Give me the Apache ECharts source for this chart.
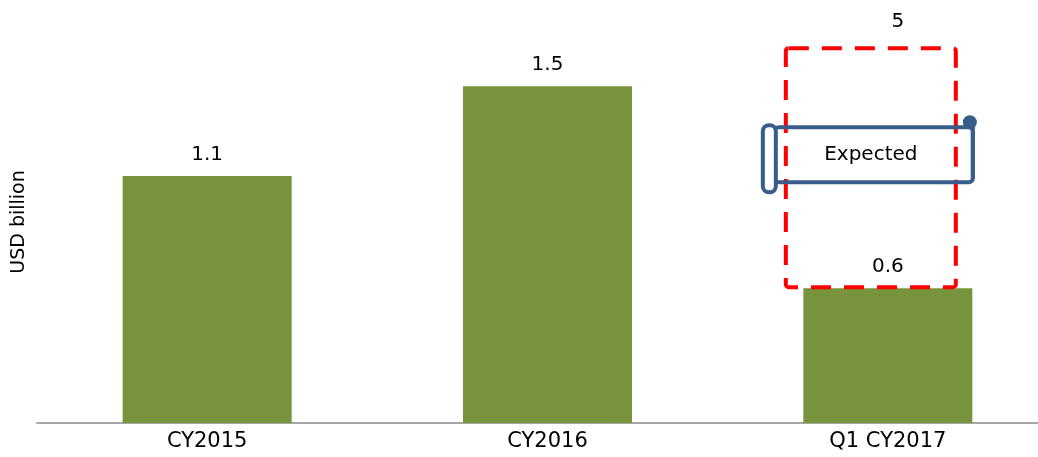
<!DOCTYPE html>
<html>
<head>
<meta charset="utf-8">
<title>USD billion by period</title>
<script src="https://cdn.jsdelivr.net/npm/echarts@6/dist/echarts.min.js"></script>
<style>
  html, body { margin: 0; padding: 0; background: #ffffff; overflow: hidden; }
  /* the plot runs a little past the right edge of the page */
  #chart { width: 1058px; height: 457px; }
</style>
</head>
<body>
<div id="chart"></div>
<script>
// Periods and values (USD billion)
const categories = ['CY2015', 'CY2016', 'Q1 CY2017'];
const values = [1.1, 1.5, 0.6];
const expectedValue = '5';
const expectedText = 'Expected';
const axisTitle = 'USD billion';

const FONT = 'DejaVu Sans, Liberation Sans, Arial, sans-serif';
const GREEN = '#77933c';
const RED = '#ff0000';
const BLUE = '#385d8a';

const chart = echarts.init(document.getElementById('chart'), null, { renderer: 'canvas' });

const option = {
  animation: false,
  backgroundColor: '#ffffff',
  grid: { left: 37, right: 0, top: 21, bottom: 34, containLabel: false },
  xAxis: {
    type: 'category',
    data: categories,
    axisLine: { show: true, lineStyle: { color: '#a6a6a6', width: 2 } },
    axisTick: { show: false },
    axisLabel: { color: '#000000', fontSize: 21, fontFamily: FONT, margin: 8 },
    splitLine: { show: false }
  },
  yAxis: {
    type: 'value',
    min: 0,
    max: 1.79,
    name: axisTitle,
    nameLocation: 'middle',
    nameRotate: 90,
    nameGap: 8,
    nameTextStyle: { color: '#000000', fontSize: 19, fontFamily: FONT },
    axisLine: { show: false },
    axisTick: { show: false },
    axisLabel: { show: false },
    splitLine: { show: false }
  },
  series: [{
    type: 'bar',
    data: values,
    barWidth: 169,
    itemStyle: { color: GREEN },
    label: {
      show: true,
      position: 'top',
      distance: 11,
      color: '#000000',
      fontSize: 20,
      fontFamily: FONT,
      formatter: p => p.value.toFixed(1)
    }
  }]
};

chart.setOption(option);

// Annotation around the last period: dashed outline, its figure and an "Expected" scroll tag,
// placed relative to the last bar's centre and top.
const lastIdx = categories.length - 1;
const xc = chart.convertToPixel({ xAxisIndex: 0 }, categories[lastIdx]);
const barTop = chart.convertToPixel({ yAxisIndex: 0 }, values[lastIdx]);
const boxW = 170, boxH = 239;
const boxX = xc - 102;
const boxY = barTop - 1 - boxH;

chart.setOption({
  graphic: [
    {
      type: 'rect', z: 10,
      shape: { x: boxX, y: boxY, width: boxW, height: boxH, r: 3 },
      style: { fill: 'none', stroke: RED, lineWidth: 4, lineDash: [20, 13] }
    },
    {
      type: 'text', z: 11,
      x: xc + 10, y: boxY - 26,
      style: { text: expectedValue, fill: '#000000', font: '20px ' + FONT, align: 'center', verticalAlign: 'middle' }
    },
    // scroll body
    {
      type: 'rect', z: 12,
      shape: { x: xc - 113, y: boxY + 79, width: 198, height: 55, r: 4 },
      style: { fill: 'none', stroke: BLUE, lineWidth: 4 }
    },
    // left rolled edge
    {
      type: 'rect', z: 13,
      shape: { x: xc - 125, y: boxY + 77, width: 13, height: 67, r: 6 },
      style: { fill: '#ffffff', stroke: BLUE, lineWidth: 4 }
    },
    // right rolled knob
    {
      type: 'circle', z: 13,
      shape: { cx: xc + 82, cy: boxY + 74, r: 7 },
      style: { fill: BLUE, stroke: 'none' }
    },
    {
      type: 'line', z: 13,
      shape: { x1: xc + 85, y1: boxY + 74, x2: xc + 85, y2: boxY + 130 },
      style: { stroke: BLUE, lineWidth: 4 }
    },
    {
      type: 'text', z: 14,
      x: xc - 17, y: boxY + 107,
      style: { text: expectedText, fill: '#000000', font: '20px ' + FONT, align: 'center', verticalAlign: 'middle' }
    }
  ]
});
</script>
</body>
</html>
